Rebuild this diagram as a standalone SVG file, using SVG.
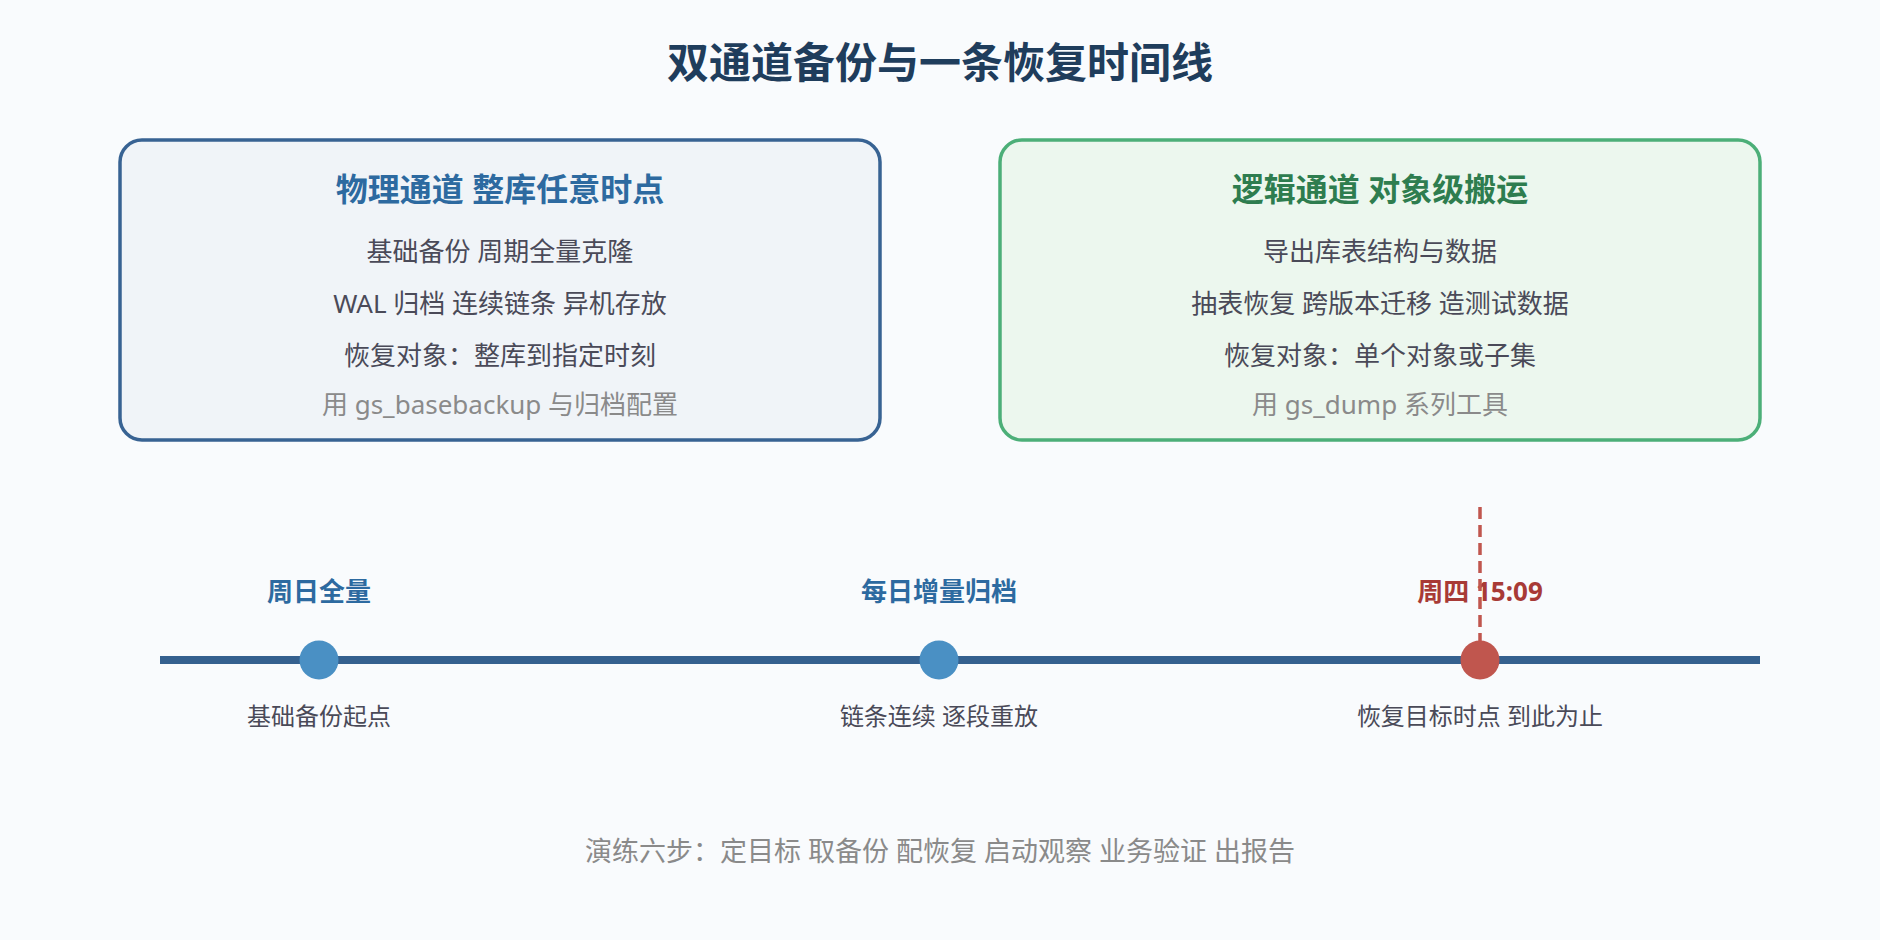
<svg xmlns="http://www.w3.org/2000/svg" width="1880" height="940" viewBox="0 0 1880 940">
  <style>
    text { font-family: "Noto Sans", "Noto Sans CJK SC", sans-serif; text-anchor: middle; }
    .title { font-size: 42px; font-weight: 700; fill: #1f3d5c; }
    .h-blue { font-size: 32px; font-weight: 700; fill: #2d6aa0; }
    .h-green { font-size: 32px; font-weight: 700; fill: #2e7d4f; }
    .body { font-size: 26px; fill: #4a4a58; }
    .note { font-size: 26px; fill: #8a8a8a; }
    .tl-top { font-size: 26px; font-weight: 700; fill: #2d6aa0; }
    .tl-red { font-size: 26px; font-weight: 700; fill: #a83a36; }
    .tl-bot { font-size: 24px; fill: #4a4a58; }
    .footer { font-size: 27px; fill: #8a8a8a; }
  </style>
  <rect x="0" y="0" width="1880" height="940" fill="#f9fbfd"/>
  <text class="title" x="940" y="78">双通道备份与一条恢复时间线</text>

  <g id="physical">
    <rect x="120" y="140" width="760" height="300" rx="22" ry="22" fill="#f0f4f8" stroke="#386393" stroke-width="3.5"/>
    <text class="h-blue" x="500" y="201">物理通道 整库任意时点</text>
    <text class="body" x="500" y="261">基础备份 周期全量克隆</text>
    <text class="body" x="500" y="313">WAL 归档 连续链条 异机存放</text>
    <text class="body" x="500" y="365">恢复对象：整库到指定时刻</text>
    <text class="note" x="500" y="414">用 gs_basebackup 与归档配置</text>
  </g>

  <g id="logical">
    <rect x="1000" y="140" width="760" height="300" rx="22" ry="22" fill="#ecf7ee" stroke="#4caf78" stroke-width="3.5"/>
    <text class="h-green" x="1380" y="201">逻辑通道 对象级搬运</text>
    <text class="body" x="1380" y="261">导出库表结构与数据</text>
    <text class="body" x="1380" y="313">抽表恢复 跨版本迁移 造测试数据</text>
    <text class="body" x="1380" y="365">恢复对象：单个对象或子集</text>
    <text class="note" x="1380" y="414">用 gs_dump 系列工具</text>
  </g>

  <g id="connectors">
    <line x1="160" y1="660" x2="1760" y2="660" stroke="#35618f" stroke-width="8"/>
  </g>

  <g id="sunday-full">
    <text class="tl-top" x="319" y="601">周日全量</text>
    <circle cx="319" cy="660" r="19.5" fill="#4a90c4"/>
    <text class="tl-bot" x="319" y="725">基础备份起点</text>
  </g>

  <g id="daily-archive">
    <text class="tl-top" x="939" y="601">每日增量归档</text>
    <circle cx="939" cy="660" r="19.5" fill="#4a90c4"/>
    <text class="tl-bot" x="939" y="725">链条连续 逐段重放</text>
  </g>

  <g id="recovery-target">
    <text class="tl-red" x="1480" y="601">周四 15:09</text>
    <line x1="1480" y1="507" x2="1480" y2="645" stroke="#c0564e" stroke-width="3.5" stroke-dasharray="12 6"/>
    <circle cx="1480" cy="660" r="19.5" fill="#c0564e"/>
    <text class="tl-bot" x="1480" y="725">恢复目标时点 到此为止</text>
  </g>

  <text class="footer" x="940" y="861">演练六步：定目标 取备份 配恢复 启动观察 业务验证 出报告</text>
</svg>
